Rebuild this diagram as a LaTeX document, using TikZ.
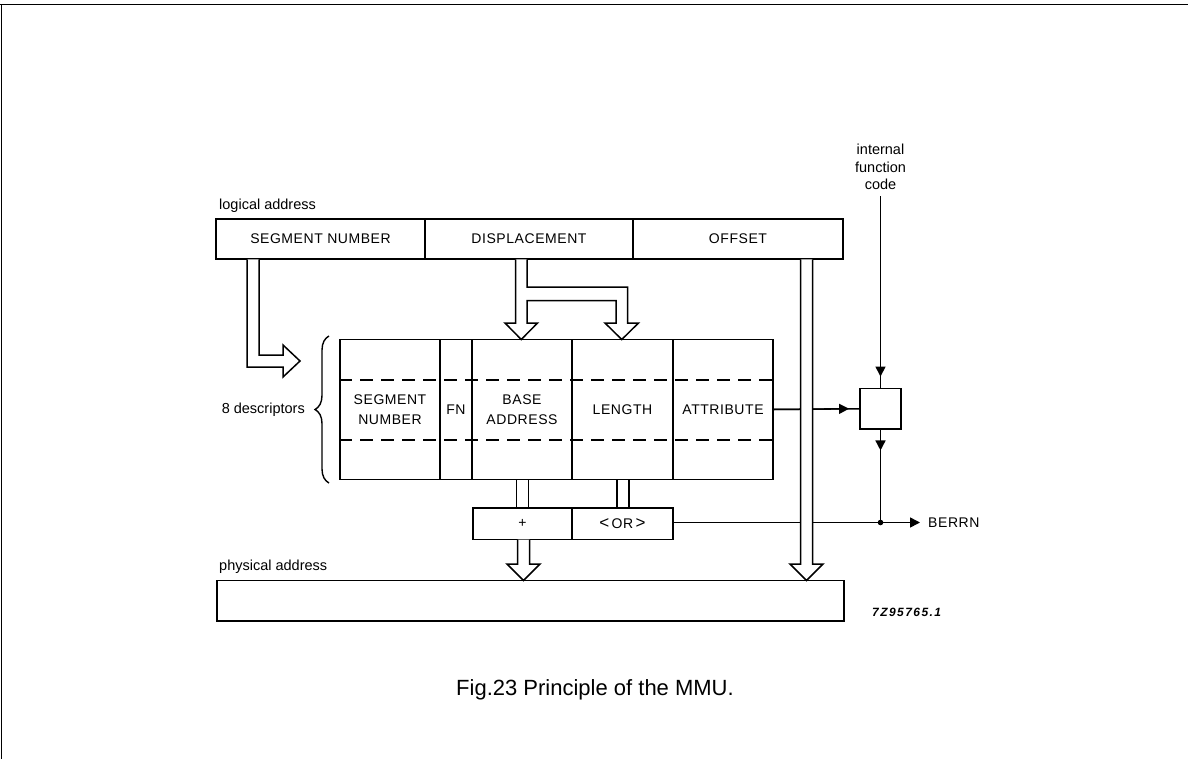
\documentclass[tikz,border=0pt]{standalone}
\usepackage{fontspec}
\setmainfont{Liberation Sans}
\usetikzlibrary{arrows.meta,decorations.pathreplacing,calc}
\begin{document}
\begin{tikzpicture}[x=1pt,y=-1pt,
  cellbox/.style={draw,line width=1.9pt,inner sep=0pt,align=center,font=\capsfont},
  thinline/.style={line width=1.5pt},
  hollow/.style={draw,fill=white,line width=1.5pt,line join=miter},
  headtip/.style={-{Triangle[length=10pt,width=10pt]}},
  lbl/.style={inner sep=0pt,font=\lblfont},
  dashrow/.style={line width=1.5pt,dash pattern=on 13pt off 8pt}
]
\newcommand\capsfont{\fontsize{14}{19.5}\selectfont\addfontfeatures{LetterSpace=4}}
\newcommand\lblfont{\fontsize{14.5}{17.5}\selectfont}
\useasboundingbox (0,0) rectangle (1188,759);
% page frame
\draw[line width=1.8pt] (0,4.5) -- (1188,4.5);
\draw[line width=1.6pt] (1.5,4.5) -- (1.5,759);

% logical address
\node[lbl,anchor=west] (la) at (219,206) {logical address};
\node[cellbox,minimum width=209pt,minimum height=40pt] (seg) at (320.5,239) {SEGMENT NUMBER};
\node[cellbox,minimum width=208pt,minimum height=40pt] (disp) at (529,239) {DISPLACEMENT};
\node[cellbox,minimum width=210pt,minimum height=40pt] (off) at (738,239) {OFFSET};

% descriptor table
\node[cellbox,minimum width=100pt,minimum height=140pt] (c1) at (390,409.5) {SEGMENT\\NUMBER};
\node[cellbox,minimum width=32pt,minimum height=140pt] (c2) at (456,409.5) {FN};
\node[cellbox,minimum width=100pt,minimum height=140pt] (c3) at (522,409.5) {BASE\\ADDRESS};
\node[cellbox,minimum width=101pt,minimum height=140pt] (c4) at (622.5,409.5) {LENGTH};
\node[cellbox,minimum width=100pt,minimum height=140pt] (c5) at (723,409.5) {ATTRIBUTE};
\draw[dashrow] (c1.west |- 0,380) -- (c5.east |- 0,380);
\draw[dashrow] (c1.west |- 0,440) -- (c5.east |- 0,440);

% brace
\draw[line width=1.4pt,decorate,decoration={brace,amplitude=14pt}] (329,483) -- (329,336);
\node[lbl,anchor=east] (desc) at (305,410) {8 descriptors};

% adder and OR
\node[cellbox,minimum width=99pt,minimum height=31.5pt] (add) at (522.5,523.75) {+};
\node[cellbox,minimum width=101pt,minimum height=31.5pt] (or) at (622.5,523.75) {{\fontsize{17}{19}\selectfont<}\,OR\,{\fontsize{17}{19}\selectfont>}};

% physical address
\node[lbl,anchor=west] (pa) at (219,567) {physical address};
\node[cellbox,minimum width=627pt,minimum height=40.5pt] (phys) at (530.5,600.75) {};
\node[inner sep=0pt,anchor=west,font=\fontsize{12}{14}\selectfont\bfseries\itshape\addfontfeatures{LetterSpace=12}] (code) at (872,612.5) {7Z95765.1};

% small check box
\node[cellbox,minimum width=41pt,minimum height=40.5pt] (sbox) at (880.5,408.75) {};
\node[lbl,align=center] (ifc) at (880.5,167) {internal\\function\\code};
\node[inner sep=0pt,anchor=west,font=\capsfont] (berrn) at (928,522.5) {BERRN};
\coordinate (j) at (sbox.south |- berrn.west);

% thin signal lines
\draw[thinline] (ifc.south) ++(0,6) -- (sbox.north);
\draw[thinline,headtip] (ifc.south) ++(0,6) -- ($(sbox.north)+(0,-11)$);
\draw[thinline] (c5.east) -- (sbox.west);
\draw[thinline,headtip] (c5.east) -- ($(sbox.west)+(-10,0)$);
\draw[thinline] (sbox.south) -- (j);
\draw[thinline,headtip] (sbox.south) -- ($(sbox.south)+(0,20.5)$);
\draw[thinline] (or.east |- j) -- (j);
\draw[thinline,headtip] (j) -- ($(berrn.west)+(-8,0)$);
\fill (j) circle (2.8pt);

% hollow arrows (drawn on top)
\path[hollow] (247,259.5) -- (247,367) -- (283,367) -- (283,377) -- (300,361)
  -- (283,345) -- (283,355) -- (259,355) -- (259,259.5);
\path[hollow] (515.5,259.5) -- (515.5,323) -- (505,323) -- (521.25,339.5) -- (537.5,323)
  -- (527,323) -- (527,300.5) -- (616,300.5) -- (616,323) -- (605,323) -- (621.75,339.5)
  -- (638.5,323) -- (627.5,323) -- (627.5,287) -- (527,287) -- (527,259.5);
\path[hollow] (800.5,259.5) -- (800.5,564) -- (790,564) -- (806.5,580.5) -- (823,564)
  -- (812.5,564) -- (812.5,259.5);
\path[hollow] (517.5,539.5) -- (517.5,564) -- (507,564) -- (523.5,580.5) -- (540,564)
  -- (529.5,564) -- (529.5,539.5);
\path[fill=white] (517.3,480.5) rectangle (527.7,507);
\draw[thinline] (516.5,479.5) -- (516.5,508) (528.5,479.5) -- (528.5,508);
\draw[thinline] (617,479.5) -- (617,508) (629,479.5) -- (629,508);

% caption
\node[inner sep=0pt,font=\fontsize{22}{26}\selectfont] (cap) at (595,690) {Fig.23 Principle of the MMU.};
\end{tikzpicture}
\end{document}
